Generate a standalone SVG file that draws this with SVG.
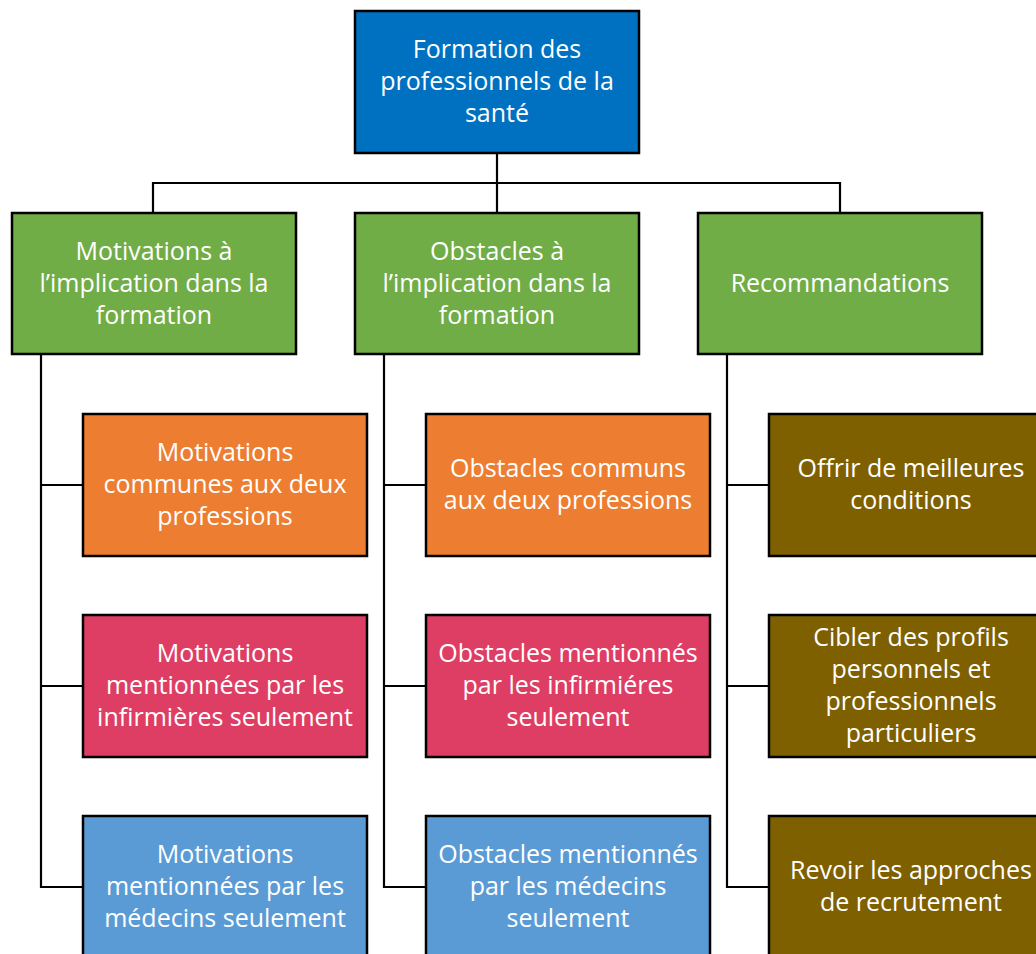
<svg xmlns="http://www.w3.org/2000/svg" width="1036" height="954" viewBox="0 0 1036 954">
<style>
.b{stroke:#000;stroke-width:2.5}
.c{fill:none;stroke:#000;stroke-width:2.2}
text{font-family:"Open Sans",Lato,"Liberation Sans",sans-serif;font-size:25px;fill:#fff;text-anchor:middle}
.blue{fill:#0070C0}.green{fill:#70AD47}.orange{fill:#ED7D31}.pink{fill:#DE3E64}.lblue{fill:#5B9BD5}.brown{fill:#7F6000}
</style>
<rect width="1036" height="954" fill="#fff"/>
<g id="connectors">
<path class="c" d="M497 153V183M153 213V183H840V213M497 183V213"/>
<path class="c" d="M41 354V887H83M41 485H83M41 686H83"/>
<path class="c" d="M384 354V887H426M384 485H426M384 686H426"/>
<path class="c" d="M727 354V887H769M727 485H769M727 686H769"/>
</g>
<g id="root"><rect class="b blue" x="355" y="11" width="284" height="142"/>
<text x="497" y="58">Formation des</text><text x="497" y="90">professionnels de la</text><text x="497" y="122">santé</text></g>
<g id="motivations"><rect class="b green" x="12" y="213" width="284" height="141"/>
<text x="154" y="260">Motivations à</text><text x="154" y="292">l’implication dans la</text><text x="154" y="324">formation</text></g>
<g id="obstacles"><rect class="b green" x="355" y="213" width="284" height="141"/>
<text x="497" y="260">Obstacles à</text><text x="497" y="292">l’implication dans la</text><text x="497" y="324">formation</text></g>
<g id="recommandations"><rect class="b green" x="698" y="213" width="284" height="141"/>
<text x="840" y="292">Recommandations</text></g>
<g id="mot-communes"><rect class="b orange" x="83" y="414" width="284" height="142"/>
<text x="225" y="461">Motivations</text><text x="225" y="493">communes aux deux</text><text x="225" y="525">professions</text></g>
<g id="mot-infirmieres"><rect class="b pink" x="83" y="615" width="284" height="142"/>
<text x="225" y="662">Motivations</text><text x="225" y="694">mentionnées par les</text><text x="225" y="726">infirmières seulement</text></g>
<g id="mot-medecins"><rect class="b lblue" x="83" y="816" width="284" height="142"/>
<text x="225" y="863">Motivations</text><text x="225" y="895">mentionnées par les</text><text x="225" y="927">médecins seulement</text></g>
<g id="obs-communs"><rect class="b orange" x="426" y="414" width="284" height="142"/>
<text x="568" y="477">Obstacles communs</text><text x="568" y="509">aux deux professions</text></g>
<g id="obs-infirmieres"><rect class="b pink" x="426" y="615" width="284" height="142"/>
<text x="568" y="662">Obstacles mentionnés</text><text x="568" y="694">par les infirmiéres</text><text x="568" y="726">seulement</text></g>
<g id="obs-medecins"><rect class="b lblue" x="426" y="816" width="284" height="142"/>
<text x="568" y="863">Obstacles mentionnés</text><text x="568" y="895">par les médecins</text><text x="568" y="927">seulement</text></g>
<g id="rec-conditions"><rect class="b brown" x="769" y="414" width="284" height="142"/>
<text x="911" y="477">Offrir de meilleures</text><text x="911" y="509">conditions</text></g>
<g id="rec-profils"><rect class="b brown" x="769" y="615" width="284" height="142"/>
<text x="911" y="646">Cibler des profils</text><text x="911" y="678">personnels et</text><text x="911" y="710">professionnels</text><text x="911" y="742">particuliers</text></g>
<g id="rec-recrutement"><rect class="b brown" x="769" y="816" width="284" height="142"/>
<text x="911" y="879">Revoir les approches</text><text x="911" y="911">de recrutement</text></g>
</svg>
